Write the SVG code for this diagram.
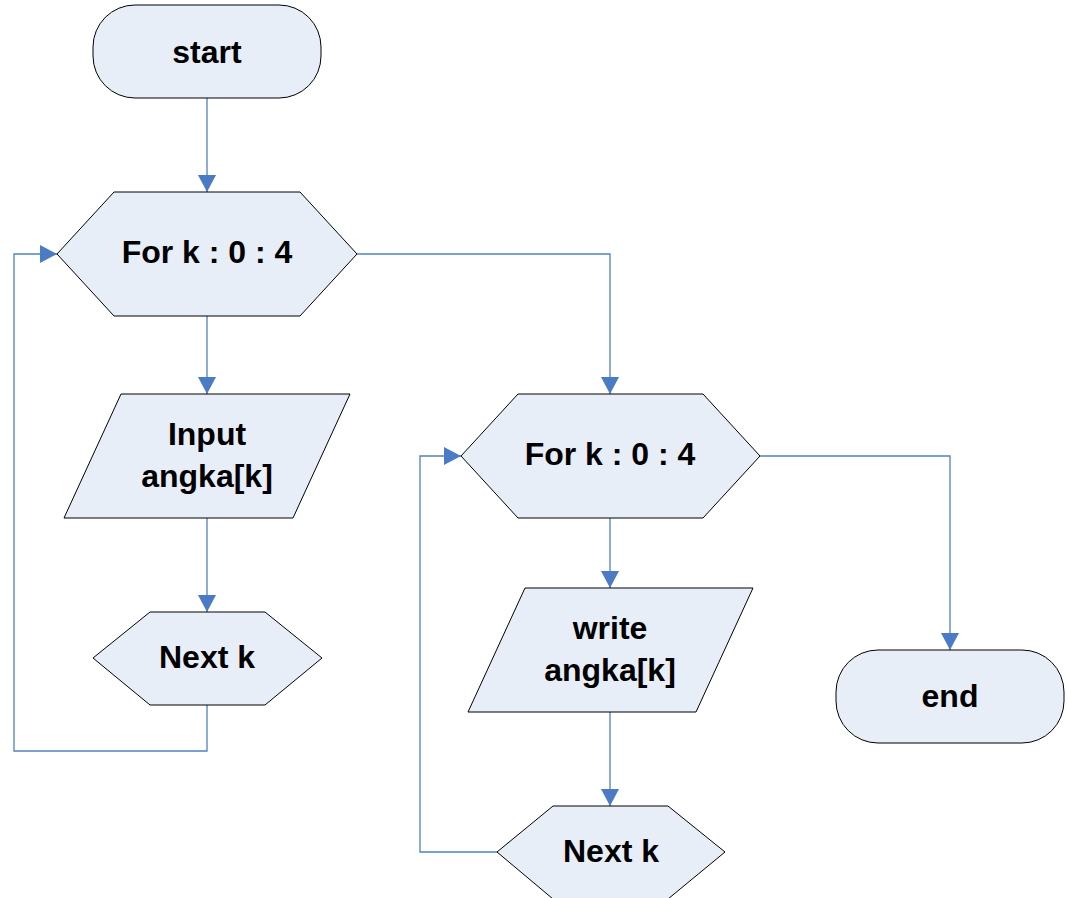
<svg xmlns="http://www.w3.org/2000/svg" width="1068" height="898" viewBox="0 0 1068 898">
<style>
.n{fill:#E8EEF8;stroke:#000;stroke-width:1}
.t{font-family:"Liberation Sans",Arial,sans-serif;font-weight:bold;font-size:32px;fill:#000;text-anchor:middle}
.c{fill:none;stroke:#4F81BD;stroke-width:1.3}
</style>
<defs>
<marker id="a" markerUnits="userSpaceOnUse" markerWidth="18" markerHeight="18" refX="17" refY="9" orient="auto">
<path d="M0,0 L17,9 L0,18 Z" fill="#4A7BC4"/>
</marker>
</defs>
<rect width="1068" height="898" fill="#fff"/>
<g id="connectors">
<path class="c" d="M207,98 V192" marker-end="url(#a)"/>
<path class="c" d="M207,316 V394" marker-end="url(#a)"/>
<path class="c" d="M207,518 V612" marker-end="url(#a)"/>
<path class="c" d="M207,705 V751 H14 V254 H57" marker-end="url(#a)"/>
<path class="c" d="M357,254 H610 V394" marker-end="url(#a)"/>
<path class="c" d="M610,518 V588" marker-end="url(#a)"/>
<path class="c" d="M610,712 V806" marker-end="url(#a)"/>
<path class="c" d="M497,852 H420 V456 H461" marker-end="url(#a)"/>
<path class="c" d="M760,456 H950 V650" marker-end="url(#a)"/>
</g>
<g id="start">
<rect class="n" x="93" y="5" width="228" height="93" rx="42" ry="42"/>
<text class="t" x="207" y="63">start</text>
</g>
<g id="for1">
<polygon class="n" points="57,254 114,192 300,192 357,254 300,316 114,316"/>
<text class="t" x="207" y="263">For k : 0 : 4</text>
</g>
<g id="input">
<polygon class="n" points="121,394 350,394 293,518 64,518"/>
<text class="t" x="207" y="445">Input</text>
<text class="t" x="207" y="487">angka[k]</text>
</g>
<g id="next1">
<polygon class="n" points="93,658 150,612 265,612 322,658 265,705 150,705"/>
<text class="t" x="207" y="668">Next k</text>
</g>
<g id="for2">
<polygon class="n" points="461,456 518,394 703,394 760,456 703,518 518,518"/>
<text class="t" x="610" y="465">For k : 0 : 4</text>
</g>
<g id="write">
<polygon class="n" points="525,588 753,588 696,712 468,712"/>
<text class="t" x="610" y="639">write</text>
<text class="t" x="610" y="681">angka[k]</text>
</g>
<g id="next2">
<polygon class="n" points="497,852 553,806 668,806 725,852 668,899 553,899"/>
<text class="t" x="611" y="862">Next k</text>
</g>
<g id="end">
<rect class="n" x="836" y="650" width="228" height="93" rx="42" ry="42"/>
<text class="t" x="950" y="707">end</text>
</g>
</svg>
